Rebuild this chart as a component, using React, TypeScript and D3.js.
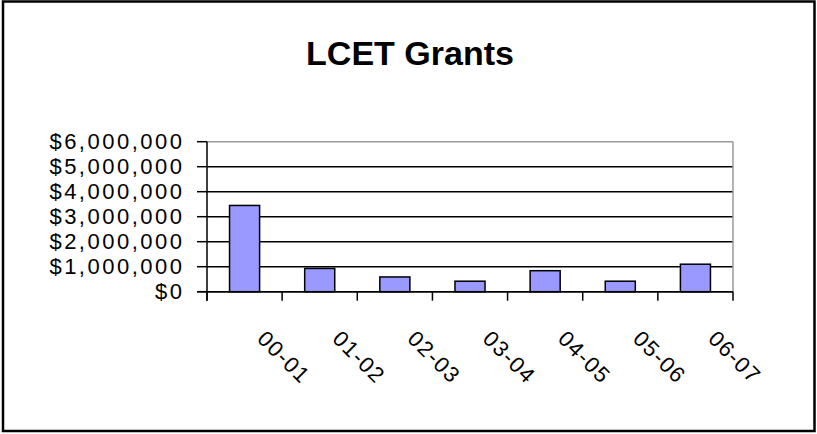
import React from "react";
import * as d3 from "d3";

const title = "LCET Grants";
const categories = ["00-01", "01-02", "02-03", "03-04", "04-05", "05-06", "06-07"];
const grants = [3450000, 930000, 590000, 420000, 840000, 420000, 1100000];
const yTicks = [0, 1000000, 2000000, 3000000, 4000000, 5000000, 6000000];

const W = 817;
const H = 434;
const plot = { left: 207, right: 733, top: 141.7, bottom: 291.7 };
const font = "'Liberation Sans', Arial, sans-serif";

export default function App() {
  const x = d3.scaleBand<string>().domain(categories).range([plot.left, plot.right]).padding(0);
  const y = d3.scaleLinear().domain([0, 6000000]).range([plot.bottom, plot.top]);
  const bw = x.bandwidth();
  const barW = bw * 0.4;
  const fmt = (v: number) => "$" + d3.format(",")(v);
  const boundaries = [...categories.map((c) => x(c) as number), plot.right];

  return (
    <svg
      width={W}
      height={H}
      style={{ position: "absolute", left: 0, top: 0, background: "#fff" }}
      fontFamily={font}
    >
      <rect x={0} y={0} width={W} height={H} fill="#fff" />
      <rect x={3} y={1.5} width={811.5} height={429.5} fill="none" stroke="#000" strokeWidth={2.5} />

      <text x={410} y={65} textAnchor="middle" fontSize={34} fontWeight="bold" fill="#000">
        {title}
      </text>

      {/* gridlines */}
      {yTicks.map((t) => (
        <line
          key={"g" + t}
          x1={plot.left}
          x2={plot.right}
          y1={y(t)}
          y2={y(t)}
          stroke={t === 6000000 ? "#9a9a9a" : "#000"}
          strokeWidth={1.5}
        />
      ))}
      {/* right border */}
      <line x1={plot.right} x2={plot.right} y1={plot.top} y2={plot.bottom} stroke="#9a9a9a" strokeWidth={1.5} />

      {/* bars */}
      {categories.map((c, i) => (
        <rect
          key={c}
          x={(x(c) as number) + (bw - barW) / 2}
          y={y(grants[i])}
          width={barW}
          height={y(0) - y(grants[i])}
          fill="#9999FF"
          stroke="#000"
          strokeWidth={1.5}
        />
      ))}

      {/* y axis */}
      <line x1={plot.left} x2={plot.left} y1={plot.top} y2={plot.bottom + 9} stroke="#000" strokeWidth={1.5} />
      <line x1={plot.left - 10} x2={plot.right} y1={y(0)} y2={y(0)} stroke="#000" strokeWidth={1.5} />
      {yTicks.map((t) => (
        <g key={"yt" + t}>
          <line x1={plot.left - 10} x2={plot.left} y1={y(t)} y2={y(t)} stroke="#000" strokeWidth={1.5} />
          <text
            x={184.5}
            y={y(t) + 7.5}
            textAnchor="end"
            fontSize={22}
            letterSpacing={2.5}
            fill="#000"
          >
            {fmt(t)}
          </text>
        </g>
      ))}

      {/* x ticks */}
      {boundaries.map((bx, i) => (
        <line key={"xt" + i} x1={bx} x2={bx} y1={plot.bottom} y2={plot.bottom + 9} stroke="#000" strokeWidth={1.5} />
      ))}
      {categories.map((c) => {
        const cx = (x(c) as number) + bw / 2 + 11.5;
        const cy = 340;
        return (
          <text
            key={"xl" + c}
            x={cx}
            y={cy}
            transform={`rotate(45 ${cx} ${cy})`}
            fontSize={22}
            letterSpacing={1.5}
            fill="#000"
          >
            {c}
          </text>
        );
      })}
    </svg>
  );
}
